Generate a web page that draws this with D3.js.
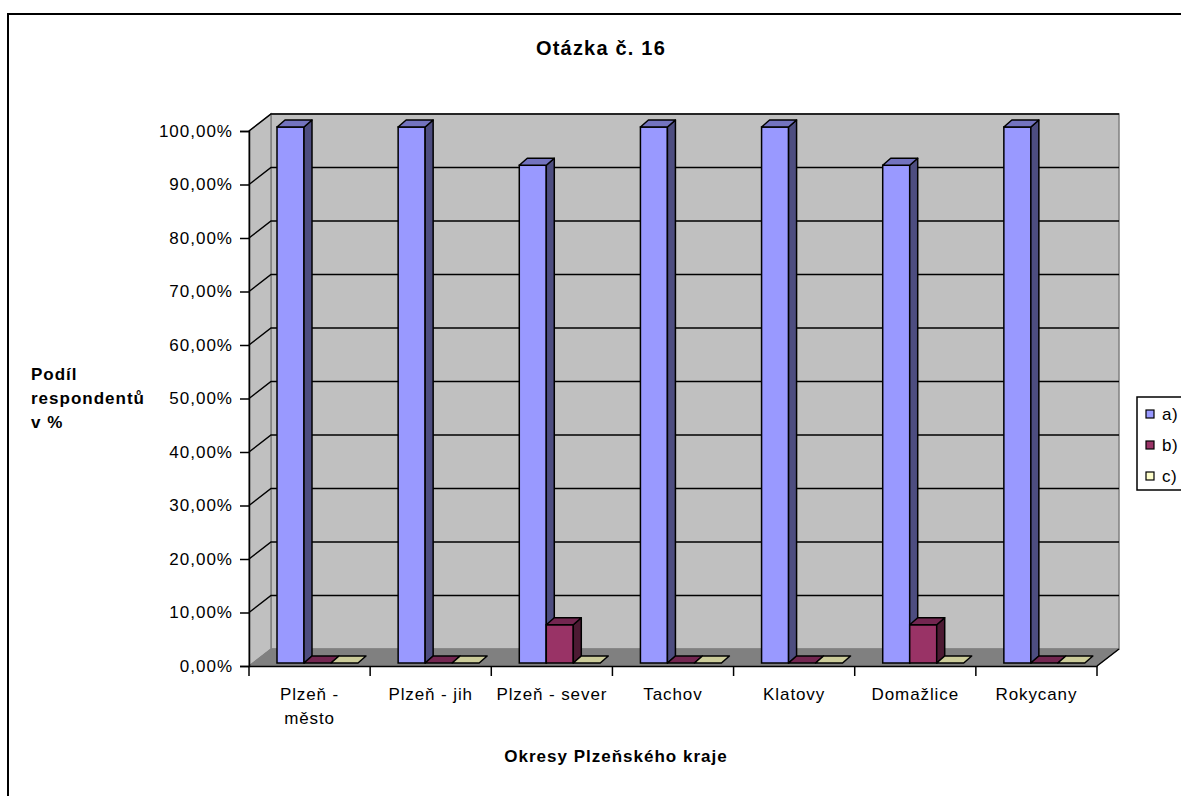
<!DOCTYPE html>
<html><head><meta charset="utf-8">
<script src="https://cdn.jsdelivr.net/npm/d3@7"></script>
<style>
html,body{margin:0;padding:0;background:#fff;}
svg{display:block;font-family:Arial,"Liberation Sans",sans-serif;}
</style></head>
<body>
<svg id="chart" width="1181" height="796"></svg>
<script>
const title = "Otázka č. 16";
const categories = ["Plzeň - město","Plzeň - jih","Plzeň - sever","Tachov","Klatovy","Domažlice","Rokycany"];
const categoryLines = [["Plzeň -","město"],["Plzeň - jih"],["Plzeň - sever"],["Tachov"],["Klatovy"],["Domažlice"],["Rokycany"]];
const seriesNames = ["a)","b)","c)"];
const seriesA = [100,100,92.86,100,100,92.86,100];
const seriesB = [0,0,7.14,0,0,7.14,0];
const seriesC = [0,0,0,0,0,0,0];
const yTicks = [0,10,20,30,40,50,60,70,80,90,100];
const yTickLabels = ["0,00%","10,00%","20,00%","30,00%","40,00%","50,00%","60,00%","70,00%","80,00%","90,00%","100,00%"];
const xAxisTitle = "Okresy Plzeňského kraje";
const yAxisTitleLines = ["Podíl","respondentů","v %"];

const series = [seriesA, seriesB, seriesC];
const colors = [
  {front:"#9999FF", side:"#4D4D80", top:"#7373BF"},
  {front:"#993366", side:"#4D1A33", top:"#732650"},
  {front:"#FFFFCC", side:"#80806A", top:"#CCCC99"}
];

const svg = d3.select("#chart");
// layout
const X0 = 249, X1 = 1097, Y0 = 666, YT = 131;
const DX = 22, DY = -17;       // wall depth
const BDX = 8, BDY = -7;       // bar depth
const BOFF = 28, BW = 27, BBASE = 3; // bar offsets

const x = d3.scaleBand().domain(categories).range([X0, X1]).padding(0);
const y = d3.scaleLinear().domain([0,100]).range([Y0, YT]);
const yb = d3.scaleLinear().domain([0,100]).range([Y0-BBASE, YT-4]);

// outer border
svg.append("rect").attr("x",8).attr("y",14).attr("width",1190).attr("height",800)
  .attr("fill","none").attr("stroke","#000").attr("stroke-width",2);

const poly = pts => pts.map(p=>p.join(",")).join(" ");
const g = svg.append("g");

// walls
g.append("polygon").attr("points", poly([[X0+DX,YT+DY],[X1+DX,YT+DY],[X1+DX,Y0+DY],[X0+DX,Y0+DY]]))
  .attr("fill","#C0C0C0").attr("stroke","#808080").attr("stroke-width",1.5);
g.append("polygon").attr("points", poly([[X0,YT],[X0+DX,YT+DY],[X0+DX,Y0+DY],[X0,Y0]]))
  .attr("fill","#C0C0C0").attr("stroke","#808080").attr("stroke-width",1.5);
g.append("polygon").attr("points", poly([[X0,Y0],[X0+DX,Y0+DY],[X1+DX,Y0+DY],[X1,Y0]]))
  .attr("fill","#808080").attr("stroke","#808080").attr("stroke-width",1);
g.append("line").attr("x1",X1).attr("y1",Y0).attr("x2",X1+DX).attr("y2",Y0+DY).attr("stroke","#000").attr("stroke-width",1.5);

// gridlines
yTicks.filter(t=>t>0).forEach(t=>{
  const yy = y(t);
  g.append("polyline").attr("points", poly([[X0,yy],[X0+DX,yy+DY],[X1+DX,yy+DY]]))
    .attr("fill","none").attr("stroke","#000").attr("stroke-width",1.5);
});

// bars
categories.forEach((cat,ci)=>{
  series.forEach((s,si)=>{
    const v = s[ci];
    const bx = x(cat) + BOFF + si*BW;
    const by0 = yb(0), by1 = yb(v);
    const c = colors[si];
    if (v > 0) {
      g.append("rect").attr("x",bx).attr("y",by1).attr("width",BW).attr("height",by0-by1)
        .attr("fill",c.front).attr("stroke","#000").attr("stroke-width",1.5);
      g.append("polygon").attr("points", poly([[bx+BW,by1],[bx+BW+BDX,by1+BDY],[bx+BW+BDX,by0+BDY],[bx+BW,by0]]))
        .attr("fill",c.side).attr("stroke","#000").attr("stroke-width",1.5).attr("stroke-linejoin","round");
    }
    g.append("polygon").attr("points", poly([[bx,by1],[bx+BDX,by1+BDY],[bx+BW+BDX,by1+BDY],[bx+BW,by1]]))
      .attr("fill",c.top).attr("stroke","#000").attr("stroke-width",1.5).attr("stroke-linejoin","round");
  });
});

// axes
const yAxis = d3.axisLeft(y).tickValues(yTicks).tickSize(9).tickPadding(7)
  .tickFormat((d,i)=>yTickLabels[i]);
const ya = svg.append("g").attr("transform",`translate(${X0},0)`).call(yAxis);
ya.select(".domain").attr("stroke","#000").attr("stroke-width",1.5);
ya.selectAll(".tick line").attr("stroke","#000").attr("stroke-width",1.5);
ya.selectAll("text").attr("font-size","17px").attr("font-family","Arial,'Liberation Sans',sans-serif")
  .attr("fill","#000").style("letter-spacing","1px");

const xAxis = d3.axisBottom(x).tickSize(0).tickFormat("");
const xa = svg.append("g").attr("transform",`translate(0,${Y0})`).call(xAxis);
xa.select(".domain").attr("stroke","#000").attr("stroke-width",1.5);
// category boundary ticks
const bounds = categories.map(c=>x(c)).concat([X1]);
xa.selectAll(".bt").data(bounds).enter().append("line").attr("class","bt")
  .attr("x1",d=>d).attr("x2",d=>d).attr("y1",0).attr("y2",10).attr("stroke","#000").attr("stroke-width",1.5);
// category labels
categories.forEach((cat,ci)=>{
  const t = svg.append("text").attr("x", x(cat)+x.bandwidth()/2).attr("y",700)
    .attr("text-anchor","middle").attr("font-size","17px").style("letter-spacing","0.9px");
  categoryLines[ci].forEach((ln,li)=>{
    t.append("tspan").attr("x", x(cat)+x.bandwidth()/2).attr("dy", li===0?0:24).text(ln);
  });
});

// titles
svg.append("text").attr("x",601).attr("y",55).attr("text-anchor","middle")
  .attr("font-size","20px").attr("font-weight","bold").style("letter-spacing","1.2px").text(title);
svg.append("text").attr("x",616).attr("y",762).attr("text-anchor","middle")
  .attr("font-size","17px").attr("font-weight","bold").style("letter-spacing","1px").text(xAxisTitle);
const yt = svg.append("text").attr("font-size","17px").attr("font-weight","bold").style("letter-spacing","1px");
yAxisTitleLines.forEach((ln,i)=>{
  yt.append("tspan").attr("x",31).attr("y",380+i*24).text(ln);
});

// legend
const lg = svg.append("g");
lg.append("rect").attr("x",1137).attr("y",397).attr("width",60).attr("height",93)
  .attr("fill","#fff").attr("stroke","#000").attr("stroke-width",1.5);
seriesNames.forEach((n,i)=>{
  const cy = 414 + i*31;
  lg.append("rect").attr("x",1146).attr("y",cy-4).attr("width",8).attr("height",8)
    .attr("fill",colors[i].front).attr("stroke","#000").attr("stroke-width",1.2);
  lg.append("text").attr("x",1162).attr("y",cy+6).attr("font-size","17px").style("letter-spacing","0.5px").text(n);
});
</script>
</body></html>
